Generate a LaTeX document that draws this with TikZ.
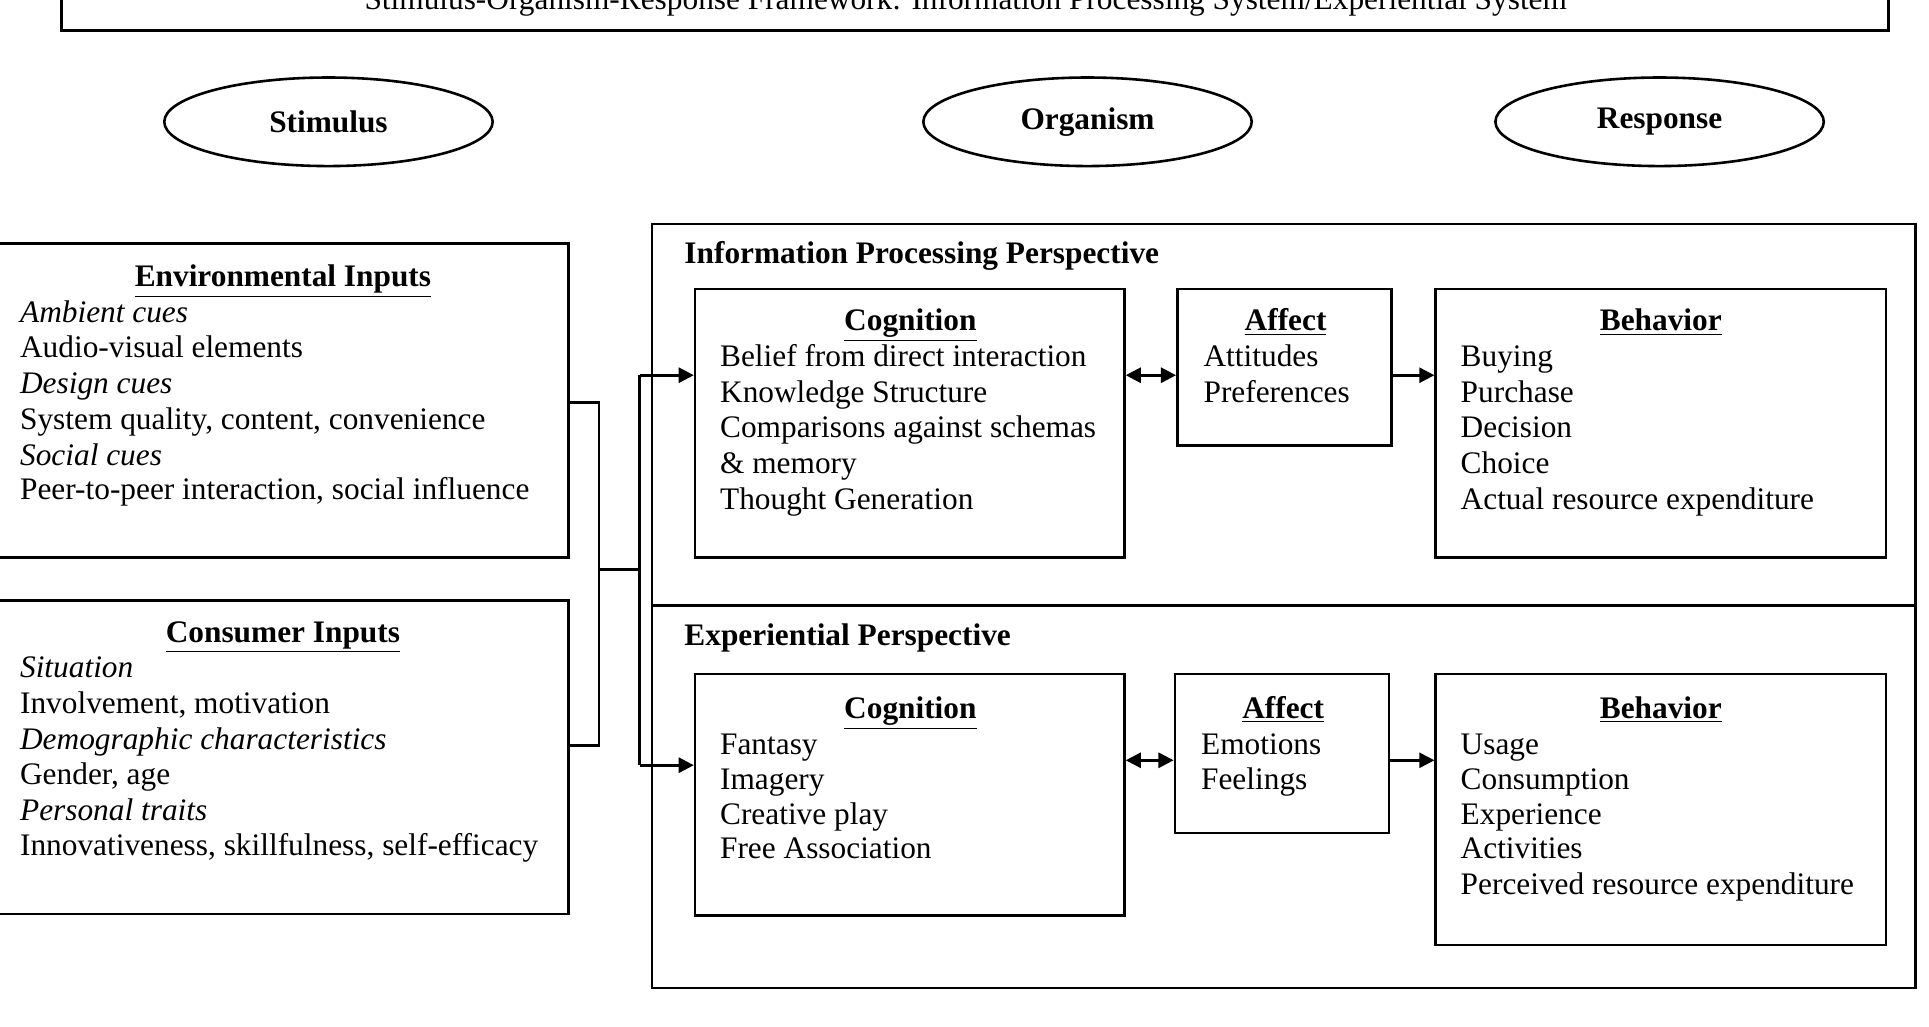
\documentclass[tikz,border=0pt]{standalone}
\usepackage{fontspec}
\setmainfont{Liberation Serif}
\usetikzlibrary{fit,arrows.meta,shapes.geometric}
\begin{document}
\begin{tikzpicture}[x=0.02cm,y=-0.02cm,
  box/.style={draw,line width=1.2pt,inner sep=0pt},
  txt/.style={anchor=base west,inner sep=0pt,font=\fontsize{14.5}{17}\selectfont},
  ttl/.style={anchor=base,inner sep=0pt,font=\fontsize{14.5}{17}\selectfont\bfseries},
  oval/.style={draw,line width=1.2pt,ellipse,minimum width=5.34cm,minimum height=1.44cm,font=\fontsize{14.5}{17}\selectfont\bfseries},
  conn/.style={line width=1.2pt},
  arr/.style={line width=1.2pt,-{Triangle[length=7pt,width=7pt]}},
  darr/.style={line width=1.2pt,{Triangle[length=7pt,width=7pt]}-{Triangle[length=7pt,width=7pt]}}]
\useasboundingbox (0,0) rectangle (1568,834);
% title
\node[box,fit={(50,-40) (1535,25)}] (tbox) {};
\node[ttl,font=\fontsize{14.5}{17}\selectfont] (title) at (785,8) {Stimulus-Organism-Response Framework: Information Processing System/Experiential System};
% ovals
\node[oval] (stim) at (267,99) {Stimulus};
\node[oval] (org) at (884,99) {Organism};
\node[oval] (resp) at (1349,99) {Response};
% left boxes
\node[box,fit={(-5,198) (462,453)}] (env) {};
\node[ttl] (envt) at (230,233) {\underline{Environmental Inputs}};
\node[txt] (e1) at (16,262) {\itshape Ambient cues};
\node[txt] (e2) at (16,291) {Audio-visual elements};
\node[txt] (e3) at (16,320) {\itshape Design cues};
\node[txt] (e4) at (16,349) {System quality, content, convenience};
\node[txt] (e5) at (16,378) {\itshape Social cues};
\node[txt] (e6) at (16,406) {Peer-to-peer interaction, social influence};
\node[box,fit={(-5,488) (462,743)}] (con) {};
\node[ttl] (cont) at (230,522) {\underline{Consumer Inputs}};
\node[txt] (c1) at (16,551) {\itshape Situation};
\node[txt] (c2) at (16,580) {Involvement, motivation};
\node[txt] (c3) at (16,609) {\itshape Demographic characteristics};
\node[txt] (c4) at (16,638) {Gender, age};
\node[txt] (c5) at (16,667) {\itshape Personal traits};
\node[txt] (c6) at (16,695) {Innovativeness, skillfulness, self-efficacy};
% big box
\node[box,fit={(530,182) (1557,803)}] (big) {};
\coordinate (dl) at (530,492); \coordinate (dr) at (1557,492);
\draw[line width=1.2pt] (dl) -- (dr);
\node[txt,font=\fontsize{14.5}{17}\selectfont\bfseries] (ipp) at (556,214) {Information Processing Perspective};
\node[txt,font=\fontsize{14.5}{17}\selectfont\bfseries] (exp) at (556,525) {Experiential Perspective};
% IP row
\node[box,fit={(565,235) (914,453)}] (cog1) {};
\node[ttl] at (740,269) {\underline{Cognition}};
\node[txt] at (585,298) {Belief from direct interaction};
\node[txt] at (585,327) {Knowledge Structure};
\node[txt] at (585,356) {Comparisons against schemas};
\node[txt] at (585,385) {\& memory};
\node[txt] at (585,414) {Thought Generation};
\node[box,fit={(957,235) (1131,362)}] (aff1) {};
\node[ttl] at (1045,269) {\underline{Affect}};
\node[txt] at (978,298) {Attitudes};
\node[txt] at (978,327) {Preferences};
\node[box,fit={(1167,235) (1533,453)}] (beh1) {};
\node[ttl] at (1350,269) {\underline{Behavior}};
\node[txt] at (1187,298) {Buying};
\node[txt] at (1187,327) {Purchase};
\node[txt] at (1187,356) {Decision};
\node[txt] at (1187,385) {Choice};
\node[txt] at (1187,414) {Actual resource expenditure};
% EXP row
\node[box,fit={(565,548) (914,744)}] (cog2) {};
\node[ttl] at (740,584) {\underline{Cognition}};
\node[txt] at (585,613) {Fantasy};
\node[txt] at (585,642) {Imagery};
\node[txt] at (585,670) {Creative play};
\node[txt] at (585,698) {Free Association};
\node[box,fit={(955,548) (1129,677)}] (aff2) {};
\node[ttl] at (1043,584) {\underline{Affect}};
\node[txt] at (976,613) {Emotions};
\node[txt] at (976,642) {Feelings};
\node[box,fit={(1167,548) (1533,768)}] (beh2) {};
\node[ttl] at (1350,584) {\underline{Behavior}};
\node[txt] at (1187,613) {Usage};
\node[txt] at (1187,642) {Consumption};
\node[txt] at (1187,670) {Experience};
\node[txt] at (1187,698) {Activities};
\node[txt] at (1187,727) {Perceived resource expenditure};
% connectors
\coordinate (b1) at (487,327); \coordinate (b2) at (487,606);
\coordinate (bm) at (487,463); \coordinate (sm) at (520,463);
\coordinate (s1) at (520,305); \coordinate (s2) at (520,622);
\draw[conn] (env.east |- b1) -- (b1) -- (b2) -- (con.east |- b2);
\draw[conn] (bm) -- (sm);
\draw[conn] (s1) -- (s2);
\draw[arr] (s1) -- (cog1.west |- s1);
\draw[arr] (s2) -- (cog2.west |- s2);
\draw[darr] (cog1.east |- 0,305) -- (aff1.west |- 0,305);
\draw[arr] (aff1.east |- 0,305) -- (beh1.west |- 0,305);
\draw[darr] (cog2.east |- 0,618) -- (aff2.west |- 0,618);
\draw[arr] (aff2.east |- 0,618) -- (beh2.west |- 0,618);
\end{tikzpicture}
\end{document}
